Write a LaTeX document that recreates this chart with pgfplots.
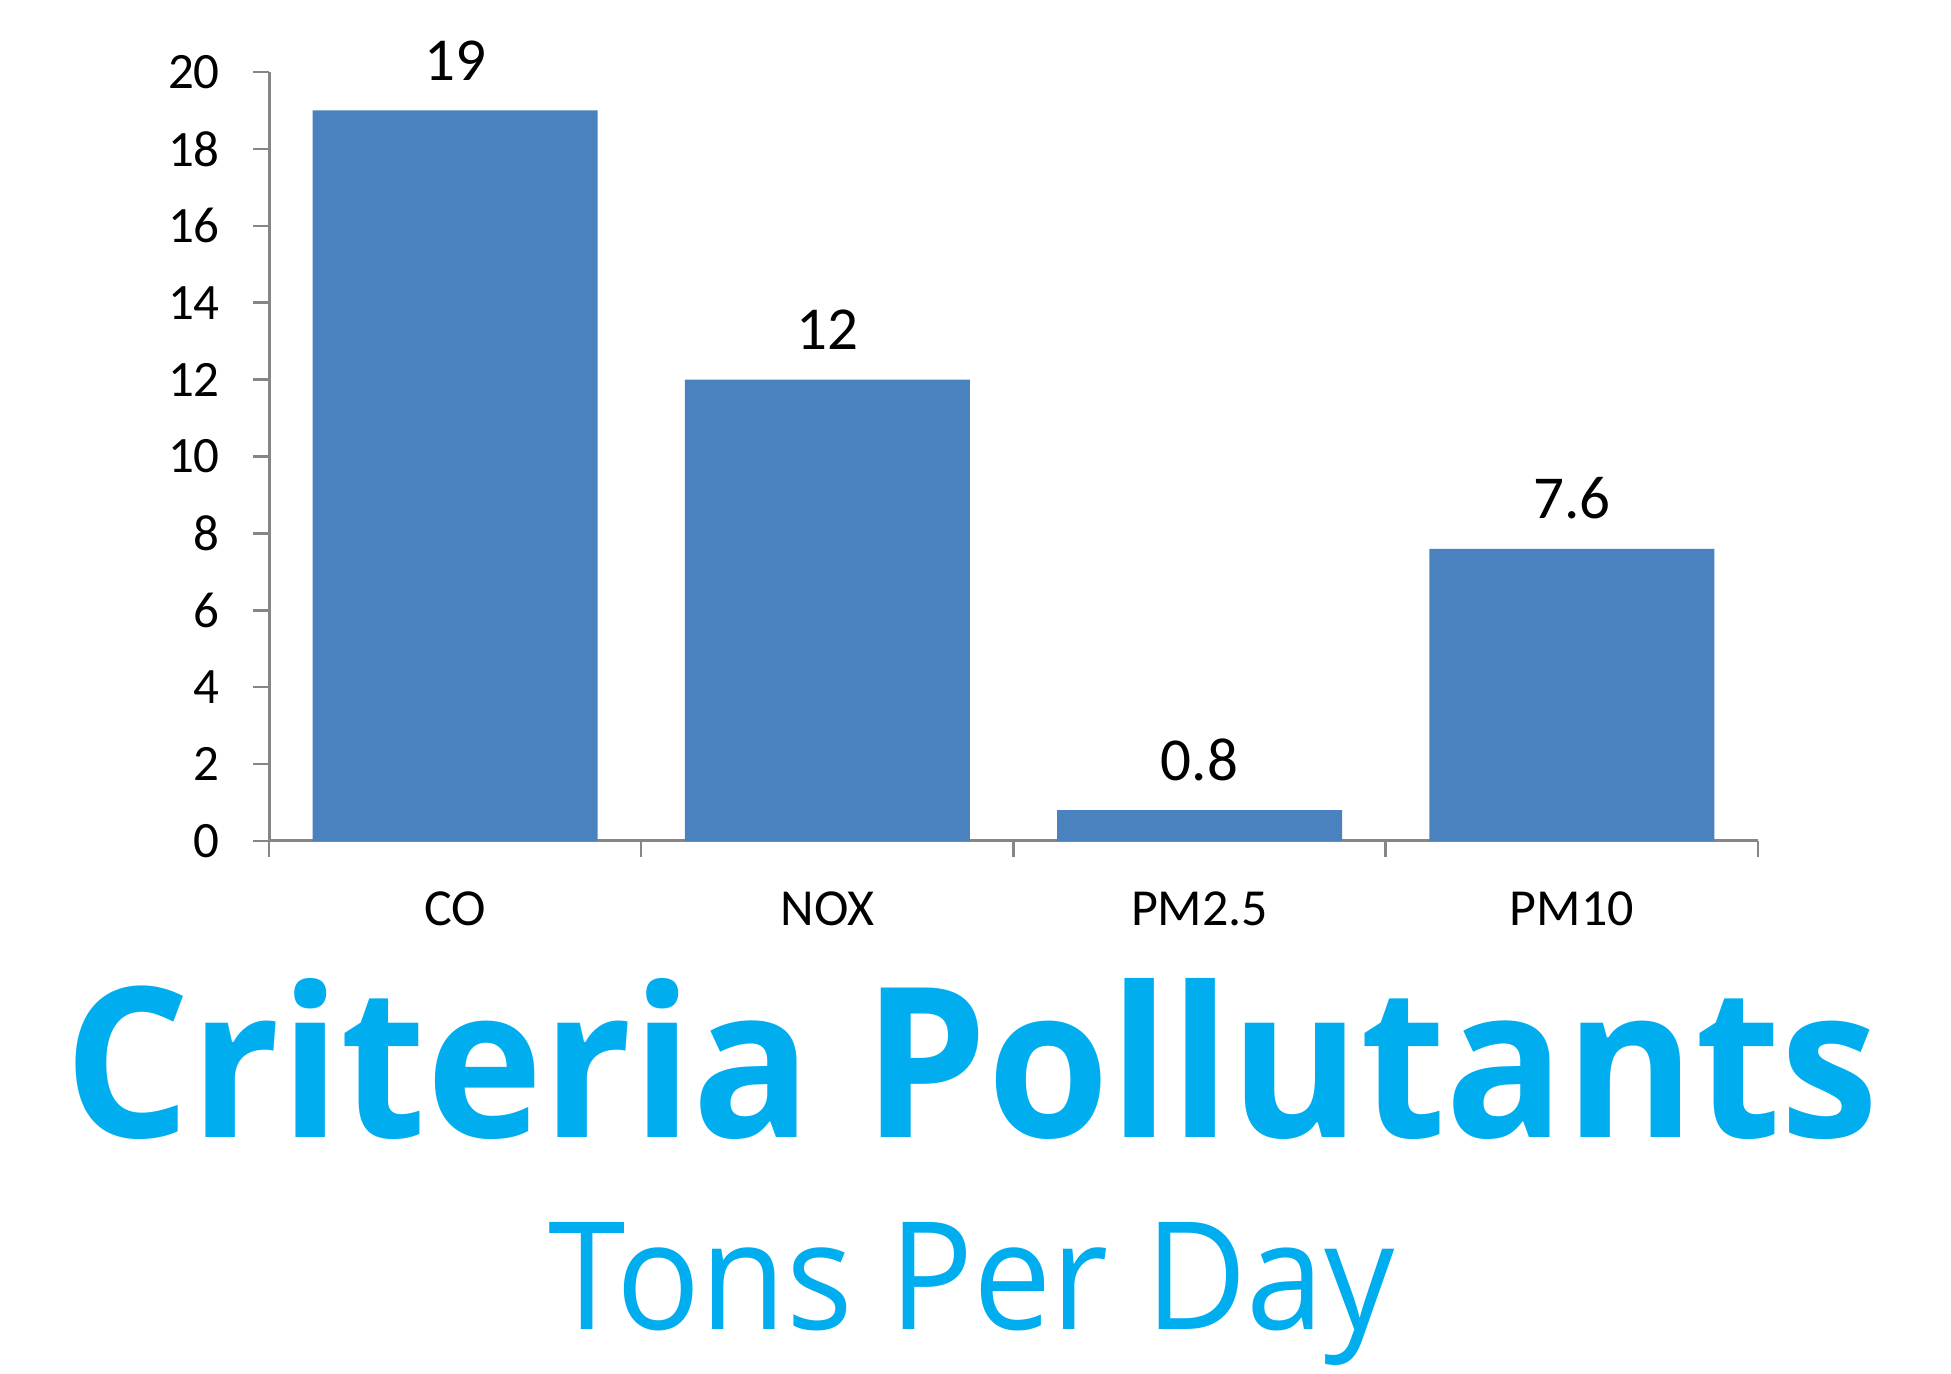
\documentclass[border=0pt]{standalone}
\usepackage{pgfplots}
\pgfplotsset{compat=1.18}
\usepackage{fontspec}
\setmainfont{Carlito}
\newfontfamily\titlefont{Open Sans}
\definecolor{barblue}{HTML}{4A81BF}
\definecolor{axisgray}{HTML}{868686}
\definecolor{titlecyan}{HTML}{00ADEF}
\begin{document}
\begin{tikzpicture}[x=1pt,y=1pt]
\useasboundingbox (0,0) rectangle (1951,1373);
\begin{axis}[
  at={(269pt,532pt)}, anchor=south west,
  scale only axis, width=1489pt, height=769pt,
  xmin=-0.5, xmax=3.5, ymin=0, ymax=20,
  axis x line=bottom, axis y line=left,
  axis line style={draw=axisgray, line width=3pt, -},
  ytick={0,2,...,20},
  xtick={-0.5,0.5,1.5,2.5,3.5},
  xticklabels={CO,NOX,PM2.5,PM10,{}},
  tick align=outside, major tick length=16pt,
  tick style={draw=axisgray, line width=2.5pt},
  /pgf/number format/assume math mode=true,
  yticklabel style={font=\fontsize{51}{61}\selectfont, anchor=east, inner sep=0pt, xshift=-33pt},
  xticklabel style={font=\fontsize{52}{62}\selectfont, anchor=base, inner sep=0pt, xshift=186.125pt, yshift=-69pt},
  clip=false,
  ybar, bar width=0.766,
  nodes near coords,
  every node near coord/.append style={font=\fontsize{61}{72}\selectfont, anchor=base, inner sep=0pt, yshift=30pt, black},
]
\addplot[fill=barblue, draw=none] coordinates {(0,19) (1,12) (2,0.8) (3,7.6)};
\end{axis}
\node[anchor=base, text=titlecyan, inner sep=0pt] at (972,235) {\resizebox{1813pt}{159pt}{\titlefont\bfseries Criteria Pollutants}};
\node[anchor=base, text=titlecyan, inner sep=0pt] at (972,43) {\resizebox{846pt}{107pt}{\titlefont Tons Per Day}};
\end{tikzpicture}
\end{document}
